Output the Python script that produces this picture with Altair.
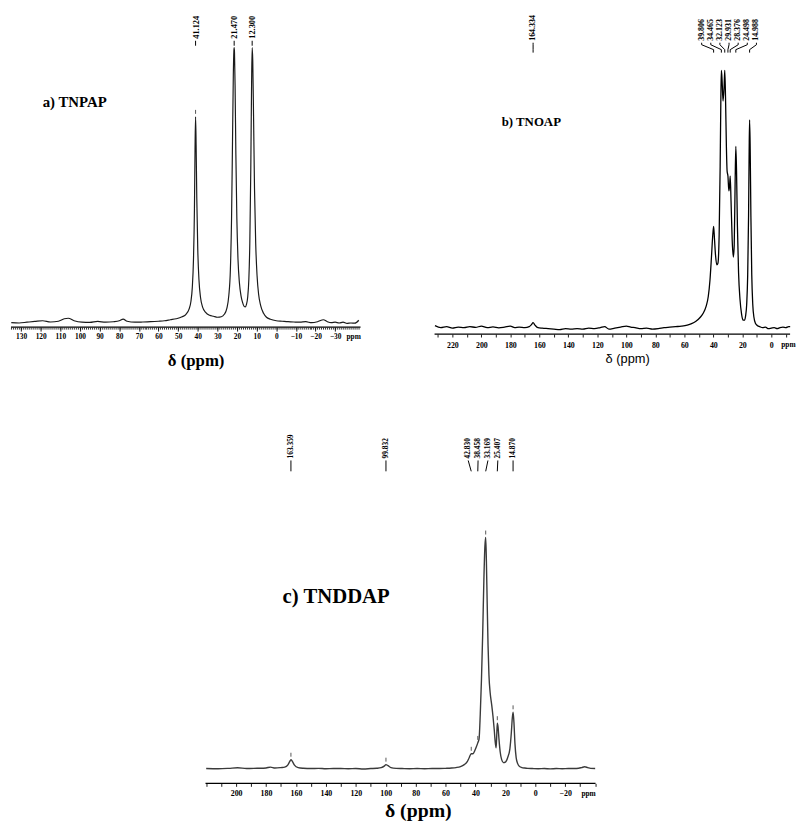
import altair as alt
import pandas as pd

SERIF = "Liberation Serif"
SANS = "Liberation Sans"

# ---------------- spectrum a) TNPAP ----------------
A_PPM = [135, 131, 127, 123, 119, 115, 111, 108, 106, 103, 99, 95, 91, 87, 83, 80, 78, 76, 72, 68,
         64, 60, 57, 54, 51, 48, 46, 44.5, 43.5, 42.8, 42.2, 41.7, 41.4, 41.124, 40.85, 40.5, 40.0,
         39.4, 38.6, 37.5, 36, 34, 32, 30, 28, 26.5, 25.2, 24.2, 23.4, 22.8, 22.3, 21.9, 21.6, 21.47,
         21.3, 21.0, 20.6, 20.1, 19.5, 18.8, 18.0, 17.2, 16.4, 15.8, 15.2, 14.6, 14.0, 13.5, 13.0,
         12.6, 12.3, 12.0, 11.6, 11.1, 10.5, 9.8, 9.0, 8.0, 6.5, 5, 3, 0, -3, -6, -9, -12, -15, -18,
         -21, -24, -26, -28, -30, -32, -34, -36, -38, -40, -42]
A_INT = [4.5, 4.2, 5.0, 5.8, 6.5, 5.2, 6.0, 8.5, 9.0, 6.5, 5.0, 4.8, 5.8, 5.0, 5.5, 6.5, 8.2, 6.0, 5.0, 5.2,
         5.5, 6.0, 6.5, 7.5, 8.5, 10.5, 13, 18, 26, 40, 68, 120, 180, 213, 185, 130, 78,
         48, 30, 20, 15, 12, 11, 10, 10.5, 13, 19, 32, 58, 110, 190, 255, 280, 283,
         278, 245, 175, 110, 68, 45, 32, 25, 21, 20.5, 23, 30, 48, 85, 160,
         245, 283, 270, 215, 140, 85, 52, 33, 22, 14, 10, 8, 6.5, 6, 5.5, 5.2, 5, 5.5, 4.5,
         5.5, 7.5, 5.5, 4.5, 5, 4.2, 5, 3.8, 4.2, 4, 7]
A_PEAKS = [41.124, 21.470, 12.300]
A_PEAK_TEXT = ["41.124", "21.470", "12.300"]
A_MARK_PEAKS = [41.124]
A_MARK_HEIGHTS = [213]

# ---------------- spectrum b) TNOAP ----------------
B_PPM = [232, 228, 224, 220, 216, 212, 208, 204, 200, 196, 192, 188, 184, 180, 177, 174, 170, 167,
         165.5, 164.334, 163, 161, 158, 154, 150, 146, 142, 138, 134, 130, 126, 122, 118, 115, 112,
         108, 104, 100, 97, 94, 90, 86, 82, 78, 74, 70, 66, 62, 58, 55, 52, 49, 47, 45, 43.5, 42.3,
         41.3, 40.5, 39.806, 39.2, 38.5, 37.6, 36.8, 36.0, 35.3, 34.8, 34.465, 34.0, 33.3, 32.6,
         32.123, 31.6, 31.0, 30.5, 29.931, 29.3, 28.8, 28.376, 27.8, 27.0, 26.2, 25.6, 25.0, 24.498,
         24.0, 23.4, 22.6, 21.6, 20.5, 19.5, 18.6, 17.8, 17.0, 16.3, 15.7, 15.3, 14.988, 14.6, 14.1,
         13.5, 12.8, 12.0, 11.0, 9.5, 8, 6, 4, 2, 0, -2, -4, -6, -8, -10, -12, -13]
B_INT = [8.5, 6.5, 7.5, 6.0, 7.0, 6.5, 7.5, 6.8, 8.0, 6.5, 7.2, 6.3, 7.0, 8.0, 6.5, 7.0, 6.5, 7.5,
         9.5, 11.5, 9.0, 6.5, 6.0, 5.5, 5.0, 4.5, 5.5, 5.0, 5.5, 5.0, 6.0, 5.5, 6.5, 7.5, 5.0,
         6.0, 7.0, 8.0, 7.0, 6.5, 5.5, 6.0, 5.0, 5.5, 6.5, 7.0, 7.5, 8.0, 9.0, 10.5, 13, 17, 21, 28, 38, 55,
         78, 98, 109, 96, 80, 70, 72, 100, 170, 240, 267, 258, 236, 250,
         267, 240, 190, 165, 160, 145, 150, 160, 135, 95, 78, 90, 150, 190,
         165, 110, 62, 35, 20, 14, 14, 18, 30, 60, 120, 185, 217, 190, 120,
         60, 30, 17, 11, 8.5, 7.5, 6.5, 7.0, 5.5, 6.0, 6.5, 5.5, 6.5, 7.0, 6.5, 7.5, 7.5]
B_PEAKS = [164.334, 39.806, 34.465, 32.123, 29.931, 28.376, 24.498, 14.988]
B_PEAK_TEXT = ["164.334", "39.806", "34.465", "32.123", "29.931", "28.376", "24.498", "14.988"]

# ---------------- spectrum c) TNDDAP ----------------
C_PPM = [220, 212, 205, 199, 193, 186, 180, 177, 174, 170, 167.5, 165.5, 164.2, 163.359, 162.5, 161,
         158.5, 155, 150, 145, 140, 135, 130, 125, 120, 115, 110, 106, 103, 101, 99.832, 98.5, 96.5,
         93, 89, 84, 79, 74, 69, 64, 60, 56, 53, 50, 47.5, 45.5, 44.2, 42.83, 41.6, 40.5, 39.4,
         38.458, 37.6, 36.8, 36.0, 35.2, 34.4, 33.7, 33.169, 32.7, 32.2, 31.6, 31.0, 30.2, 29.2,
         28.3, 27.5, 26.8, 26.2, 25.8, 25.407, 24.9, 24.3, 23.5, 22.5, 21.3, 20.0, 18.5, 17.0, 16.0,
         15.4, 14.87, 14.3, 13.6, 12.8, 11.8, 10.5, 9, 7, 5, 2, -2, -6, -10, -14, -18, -22, -26,
         -29, -31, -33, -35, -37, -40]
C_INT = [15, 14.8, 15.2, 15.8, 15, 15.3, 15.6, 16.5, 15.5, 16, 16.5, 18.5, 22, 24, 22.5, 18.5,
         16, 15.3, 15, 15.2, 14.8, 15, 15, 14.8, 15, 14.6, 15, 15.3, 16, 17.5, 19, 18, 16,
         15.2, 15, 14.8, 15, 14.8, 15, 15, 15.2, 15.5, 16, 17, 19, 22, 26, 30, 30, 33, 37,
         41, 45, 70, 105, 150, 205, 240, 249, 225, 185, 140, 110, 92, 80,
         68, 55, 42, 36, 48, 61, 57, 45, 32, 24, 21, 21.5, 26, 35, 52,
         66, 72, 62, 40, 26, 20, 17, 16, 15.5, 15.2, 15, 14.8, 15, 14.7, 15, 14.8, 15, 15,
         15.3, 16, 16.8, 16, 15.2, 15]
C_PEAKS = [163.359, 99.832, 42.830, 38.458, 33.169, 25.407, 14.870]
C_PEAK_TEXT = ["163.359", "99.832", "42.830", "38.458", "33.169", "25.407", "14.870"]
C_MARK_PEAKS = [163.359, 99.832, 42.830, 38.458, 33.169, 25.407, 14.870]
C_MARK_HEIGHTS = [24, 19, 30, 41, 249, 61, 72]


def spread_labels(peaks, gap):
    groups = [[p] for p in peaks]

    def pos(g):
        c = sum(g) / len(g)
        n = len(g)
        return [c + ((n - 1) / 2 - i) * gap for i in range(n)]

    changed = True
    while changed:
        changed = False
        for i in range(len(groups) - 1):
            if pos(groups[i])[-1] - pos(groups[i + 1])[0] < gap:
                groups[i] = groups[i] + groups.pop(i + 1)
                changed = True
                break
    out = []
    for g in groups:
        out += pos(g)
    return out


def make_axis(values, label_test, tick_size, lab_size, lab_pad, offset,
              title_font, title_weight, title_size, title_x, title_y):
    return alt.Axis(
        orient="bottom", offset=offset, values=values, format="d",
        tickSize=tick_size,
        labelExpr="(" + label_test + ") ? datum.label : ''",
        labelFont=SERIF, labelFontWeight="bold", labelFontSize=lab_size, labelColor="black",
        labelPadding=lab_pad, labelOverlap=False, labelFlush=False,
        domain=False, tickColor="black", tickWidth=0.9, grid=False,
        title="δ (ppm)", titleFont=title_font, titleFontWeight=title_weight,
        titleFontSize=title_size, titleColor="black", titleX=title_x, titleY=title_y,
        titleBaseline="alphabetic", titleAlign="center",
    )


def minor_axis(values, tick_size, offset):
    return alt.Axis(orient="bottom", offset=offset, values=values, tickSize=tick_size,
                    labels=False, domain=False, grid=False, tickColor="black",
                    tickWidth=0.8, title="")


def panel(ppm, inten, xdom, ydom, axis, axis_line, line_color, line_width,
          peaks, texts, gap, text_level, conn, lab_font, title, title_at, title_size,
          ppm_at, ppm_font, marks=None, minor=None):
    xs = alt.Scale(domain=xdom, reverse=True, nice=False, zero=False)
    ys = alt.Scale(domain=ydom, nice=False, zero=False)

    def X(ax=None):
        return alt.X("ppm:Q", scale=xs, axis=ax)

    def Y():
        return alt.Y("I:Q", scale=ys, axis=None)

    spec = pd.DataFrame({"ppm": ppm, "I": inten})
    line = alt.Chart(spec).mark_line(color=line_color, strokeWidth=line_width,
                                     interpolate="monotone").encode(x=X(axis), y=Y())

    adf = pd.DataFrame({"ppm": [axis_line[0]], "ppm2": [axis_line[1]], "I": [0]})
    axline = alt.Chart(adf).mark_rule(color="black", strokeWidth=axis_line[2]).encode(
        x=X(minor), x2="ppm2:Q", y=Y())

    labels = spread_labels(peaks, gap)
    rows = []
    top, top2, bot2, bot = conn
    for p, l, t in zip(peaks, labels, texts):
        for s, (xx, yy) in enumerate([(l, top), (l, top2), (p, bot2), (p, bot)]):
            rows.append({"ppm": xx, "I": yy, "lab": t, "seq": s})
    conn_ch = alt.Chart(pd.DataFrame(rows)).mark_line(color="black", strokeWidth=1).encode(
        x=X(), y=Y(), detail="lab:N", order="seq:Q")

    tdf = pd.DataFrame({"ppm": labels, "I": [text_level] * len(labels), "t": texts})
    txt = alt.Chart(tdf).mark_text(angle=270, align="left", baseline="middle", font=SERIF,
                                   fontWeight="bold", fontSize=lab_font, color="black").encode(
        x=X(), y=Y(), text="t:N")

    tt = pd.DataFrame({"ppm": [title_at[0]], "I": [title_at[1]], "t": [title]})
    title_ch = alt.Chart(tt).mark_text(align="left", baseline="middle", font=SERIF,
                                       fontWeight="bold", fontSize=title_size,
                                       color="black").encode(x=X(), y=Y(), text="t:N")

    pp = pd.DataFrame({"ppm": [ppm_at[0]], "I": [ppm_at[1]], "t": ["ppm"]})
    ppm_ch = alt.Chart(pp).mark_text(align="center", baseline="middle", font=SERIF,
                                     fontWeight="bold", fontSize=ppm_font,
                                     color="black").encode(x=X(), y=Y(), text="t:N")

    layers = [line, axline, conn_ch, txt, title_ch, ppm_ch]
    if marks:
        mp, mh = marks
        mdf = pd.DataFrame({"ppm": mp, "I": [h + 3 for h in mh], "I2": [h + 7 for h in mh]})
        layers.append(alt.Chart(mdf).mark_rule(color="#555", strokeWidth=1).encode(
            x=X(), y=Y(), y2="I2:Q"))
    return alt.layer(*layers).resolve_axis(x="independent")


axis_a = make_axis(list(range(-30, 131, 10)), "true", 4, 7.5, 2, -7,
                   SERIF, "bold", 17, 187, 39)
minor_a = minor_axis(list(range(-42, 136)), 2, -7)
axis_b = make_axis(list(range(-10, 231, 10)),
                   "datum.value % 20 === 0 && datum.value >= 0 && datum.value <= 220",
                   3, 8, 5, 0, SANS, "normal", 13, 624, 29)
axis_c = make_axis(list(range(-40, 221, 10)),
                   "datum.value % 20 === 0 && datum.value >= -20 && datum.value <= 200",
                   3, 8, 3, 0, SERIF, "bold", 20, 412, 34)

pa = panel(A_PPM, A_INT, [-261.7, 135.16], [-7, 317], axis_a, (135.16, -42.9, 1.3),
           "#1a1a1a", 1.2,
           A_PEAKS, A_PEAK_TEXT, 4.5, 292, (290, 290, 285, 285), 8.5,
           "a) TNPAP", (119, 228), 15, (-39.4, -9.5), 7.5,
           marks=(A_MARK_PEAKS, A_MARK_HEIGHTS), minor=minor_a)
pb = panel(B_PPM, B_INT, [-12.94, 524.5], [0, 324], axis_b, (232.3, -12.94, 1.2),
           "black", 1.3,
           B_PEAKS, B_PEAK_TEXT, 6.3, 297, (295, 293, 288, 285), 8,
           "b) TNOAP", (186, 215), 13, (-11.8, -11.5), 7.5)
pc = panel(C_PPM, C_INT, [-170.3, 350.5], [0, 358], axis_c, (220.46, -40.26, 1.1),
           "#3a3a3a", 1.4,
           C_PEAKS, C_PEAK_TEXT, 6.6, 329, (327, 327, 316, 316), 7.5,
           "c) TNDDAP", (169, 189), 21, (-35.6, -10.5), 7.5,
           marks=(C_MARK_PEAKS, C_MARK_HEIGHTS))

top = alt.layer(pa, pb).resolve_scale(x="independent", y="independent").properties(
    width=789, height=324)
bottom = pc.properties(width=789, height=358)

chart = alt.vconcat(top, bottom, spacing=97, bounds="flush", padding=0).configure_view(
    stroke="transparent")

chart.save("out.html", embed_options={"renderer": "svg", "actions": False})
